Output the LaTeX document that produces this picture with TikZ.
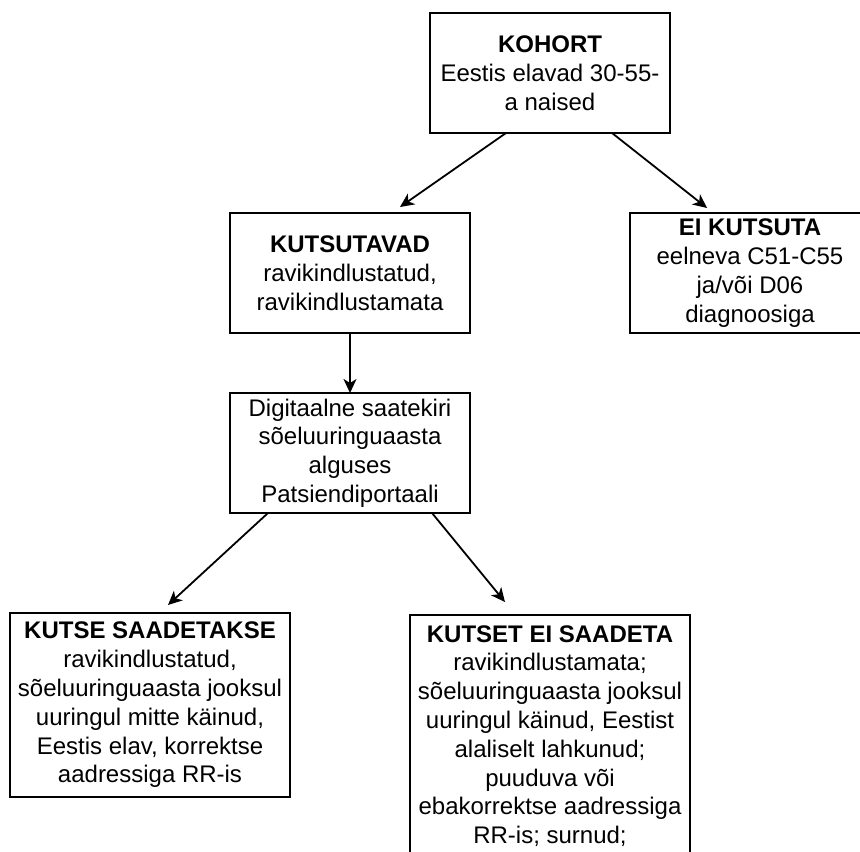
\documentclass[tikz,border=0pt]{standalone}
\usepackage{fontspec}
\setmainfont{Liberation Sans}
\usetikzlibrary{arrows.meta,positioning}

\begin{document}
\begin{tikzpicture}[x=0.5pt,y=-0.5pt,every node/.style={box},
  box/.style={draw,rectangle,line width=1pt,outer sep=0pt,inner sep=0pt,align=center,
    minimum width=120pt,minimum height=60pt,font=\fontsize{12pt}{14.4pt}\selectfont},
  link/.style={line width=0.9pt,-{Stealth[length=7pt,width=6.5pt,inset=2pt]}}]

        \useasboundingbox (0,0) rectangle (860,851);
        \clip (0,0) rectangle (860,851);

        \node (kohort) at (550,73) {\textbf{KOHORT}\\Eestis elavad 30-55-\\a naised};
        \node (kutsutavad) at (350,273) {\textbf{KUTSUTAVAD}\\ravikindlustatud,\\ravikindlustamata};
        \node (eikutsuta) [right = 80pt of kutsutavad] {\textbf{EI KUTSUTA}\\eelneva C51-C55\\ja/või D06\\diagnoosiga};
        \node (saatekiri) [below = 30pt of kutsutavad] {Digitaalne saatekiri\\sõeluuringuaasta\\alguses\\Patsiendiportaali};

        \node (saadetakse) [minimum width=140pt,minimum height=92pt] at (150,705)
          {\textbf{KUTSE SAADETAKSE}\\ravikindlustatud,\\sõeluuringuaasta jooksul\\uuringul mitte käinud,\\Eestis elav, korrektse\\aadressiga RR-is};
        \node (eisaadeta) [minimum width=140pt,minimum height=121pt,anchor=north] at (550,615)
          {\textbf{KUTSET EI SAADETA}\\ravikindlustamata;\\sõeluuringuaasta jooksul\\uuringul käinud, Eestist\\alaliselt lahkunud;\\puuduva või\\ebakorrektse aadressiga\\RR-is; surnud;};

        \draw[link] ([xshift=-22pt]kohort.south) -- ([xshift=25pt,yshift=3pt]kutsutavad.north);
        \draw[link] ([xshift=31pt]kohort.south) -- ([xshift=-21.5pt,yshift=2.5pt]eikutsuta.north);
        \draw[link] (kutsutavad) -- (saatekiri);
        \draw[link] ([xshift=-41pt]saatekiri.south) -- ([xshift=9pt,yshift=4pt]saadetakse.north);
        \draw[link] ([xshift=41pt]saatekiri.south) -- ([xshift=-22.5pt,yshift=6.5pt]eisaadeta.north);
      \end{tikzpicture}
\end{document}
